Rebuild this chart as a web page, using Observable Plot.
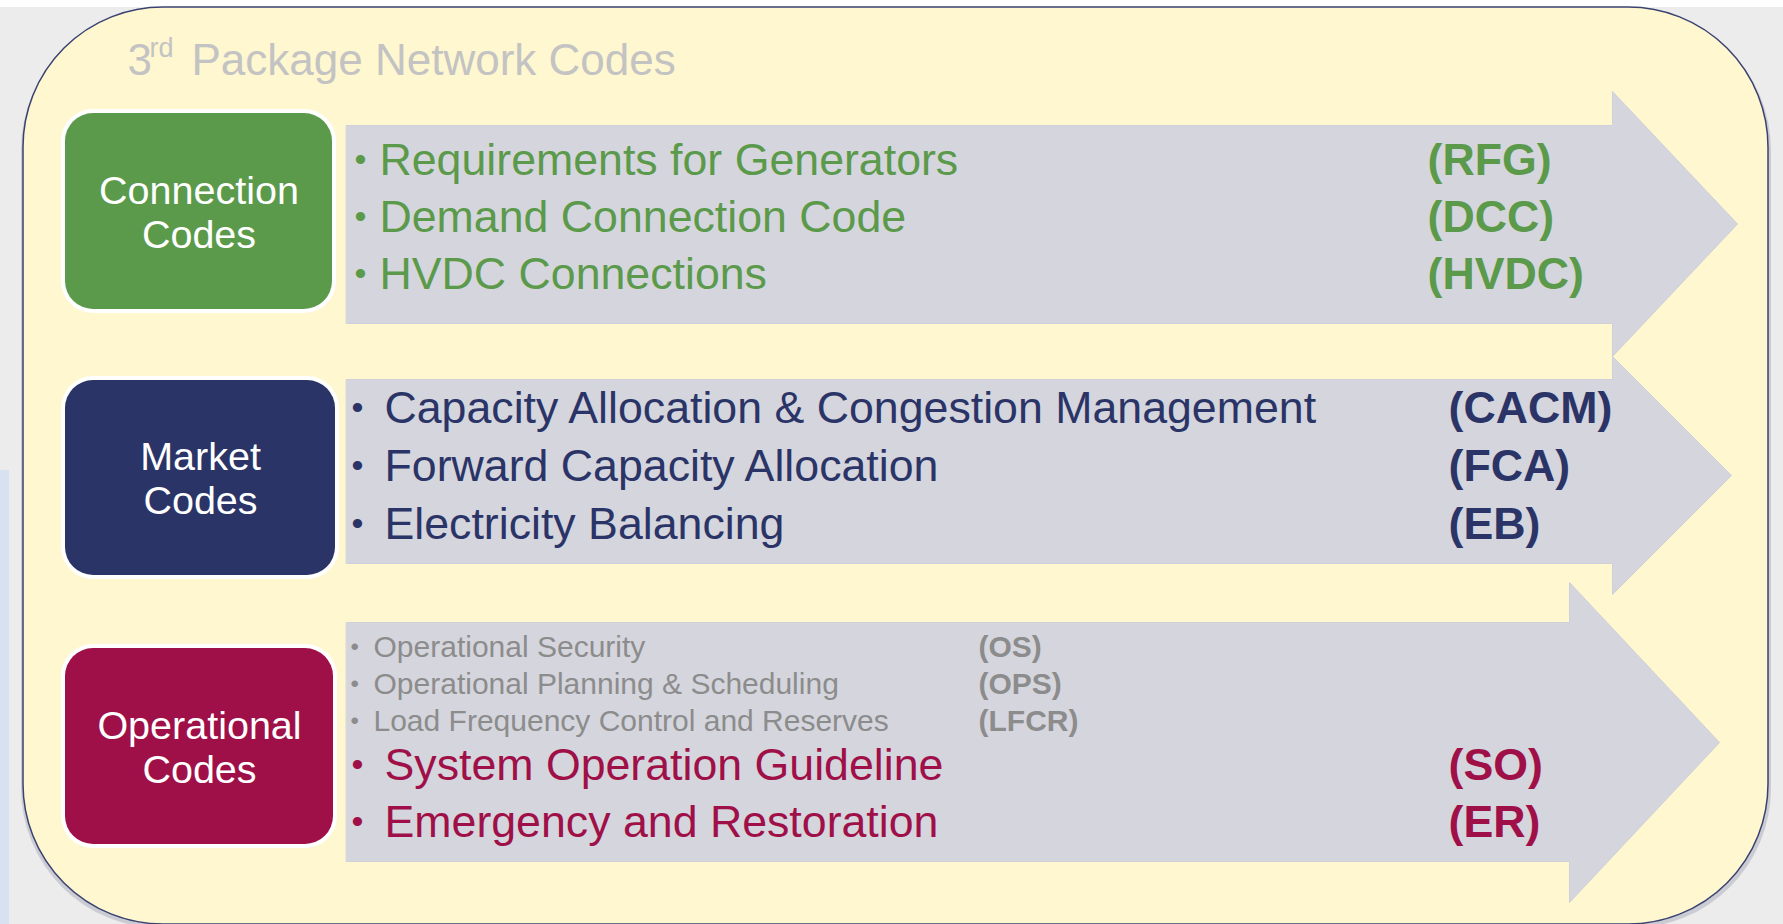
<!DOCTYPE html>
<html>
<head>
<meta charset="utf-8">
<script src="https://cdn.jsdelivr.net/npm/d3@7"></script>
<script src="https://cdn.jsdelivr.net/npm/@observablehq/plot@0.6"></script>
<style>
  html, body { margin: 0; padding: 0; background: #ececec; }
  #chart svg { display: block; }
</style>
</head>
<body>
<div id="chart"></div>
<script>
// ---- content ----
const titleMain = "3";
const titleSup = "rd";
const titleRest = "Package Network Codes";

const categories = ["Connection\nCodes", "Market\nCodes", "Operational\nCodes"];

const connectionItems = ["Requirements for Generators", "Demand Connection Code", "HVDC Connections"];
const connectionAbbr = ["(RFG)", "(DCC)", "(HVDC)"];

const marketItems = ["Capacity Allocation & Congestion Management", "Forward Capacity Allocation", "Electricity Balancing"];
const marketAbbr = ["(CACM)", "(FCA)", "(EB)"];

const operationalMinorItems = ["Operational Security", "Operational Planning & Scheduling", "Load Frequency Control and Reserves"];
const operationalMinorAbbr = ["(OS)", "(OPS)", "(LFCR)"];

const operationalItems = ["System Operation Guideline", "Emergency and Restoration"];
const operationalAbbr = ["(SO)", "(ER)"];

// ---- layout & style ----
const W = 1783, H = 924;
const colors = ["#5b9a4a", "#2b3467", "#a01048"];
const arrowFill = "#d5d5dd";
const panelFill = "#fff7cf";
const SANS = "'Liberation Sans', Arial, Helvetica, sans-serif";

const boxes = [
  {x1: 65, x2: 332, y1: 113, y2: 309},
  {x1: 65, x2: 335, y1: 380, y2: 575},
  {x1: 65, x2: 333, y1: 648, y2: 844}
].map((b, i) => ({...b, label: categories[i], color: colors[i], cx: (b.x1 + b.x2) / 2, cy: (b.y1 + b.y2) / 2,
                  ox1: b.x1 - 4, ox2: b.x2 + 4, oy1: b.y1 - 4, oy2: b.y2 + 4}));

const arrowGeom = [
  {x0: 346, hx: 1612, bt: 125, bb: 323, ht: 91, hb: 356, tip: 1737},
  {x0: 346, hx: 1612, bt: 379, bb: 563, ht: 356, hb: 594, tip: 1731},
  {x0: 346, hx: 1569, bt: 622, bb: 861, ht: 582, hb: 902, tip: 1719}
];
const arrowPts = arrowGeom.flatMap((a, id) => {
  const cy = (a.ht + a.hb) / 2;
  return [[a.x0, a.bt], [a.hx, a.bt], [a.hx, a.ht], [a.tip, cy], [a.hx, a.hb], [a.hx, a.bb], [a.x0, a.bb]]
    .map(([x, y]) => ({id, x, y}));
});

function rows(items, abbr, cfg) {
  return items.map((t, i) => ({
    text: t, abbr: abbr[i],
    y: cfg.y0 + i * cfg.dy,
    bx: cfg.bx, tx: cfg.tx, ax: cfg.ax
  }));
}
const g1 = rows(connectionItems, connectionAbbr, {y0: 160, dy: 57, bx: 354, tx: 379, ax: 1427});
const g2 = rows(marketItems, marketAbbr, {y0: 408, dy: 58, bx: 351, tx: 384, ax: 1448});
const g3m = rows(operationalMinorItems, operationalMinorAbbr, {y0: 647, dy: 37, bx: 350, tx: 373, ax: 978});
const g3 = rows(operationalItems, operationalAbbr, {y0: 765, dy: 57, bx: 351, tx: 384, ax: 1448});

function textMarks(data, color, size, abbrWeight, bulletSize) {
  return [
    Plot.text(data, {x: "bx", y: "y", text: () => "•", fill: color, fontSize: bulletSize, textAnchor: "start", lineAnchor: "middle"}),
    Plot.text(data, {x: "tx", y: "y", text: "text", fill: color, fontSize: size, textAnchor: "start", lineAnchor: "middle"}),
    Plot.text(data, {x: "ax", y: "y", text: "abbr", fill: color, fontSize: size, fontWeight: abbrWeight, textAnchor: "start", lineAnchor: "middle"})
  ];
}

const chart = Plot.plot({
  width: W, height: H,
  margin: 0,
  x: {domain: [0, W], range: [0, W], axis: null},
  y: {domain: [0, H], range: [0, H], axis: null},
  style: {background: "#ececec", fontFamily: SANS},
  marks: [
    Plot.rect([{}], {x1: () => 0, x2: () => W, y1: () => 0, y2: () => 7, fill: "#ffffff"}),
    Plot.rect([{}], {x1: () => 0, x2: () => 9, y1: () => 470, y2: () => H, fill: "#d6e2ef"}),
    // soft shadow
    Plot.rect([{}], {x1: () => 21, x2: () => 1771, y1: () => 10, y2: () => 928, rx: 140, fill: "#8e90a6", fillOpacity: 0.35}),
    Plot.rect([{}], {x1: () => 23, x2: () => 1768, y1: () => 7, y2: () => 924, rx: 140, fill: panelFill, stroke: "#3a4272", strokeWidth: 1.5}),
    Plot.line(arrowPts, {x: "x", y: "y", z: "id", fill: arrowFill, stroke: "#cfd0da", strokeWidth: 1, curve: "linear-closed"}),
    Plot.rect(boxes, {x1: "ox1", x2: "ox2", y1: "oy1", y2: "oy2", fill: "#ffffff", rx: 32}),
    Plot.rect(boxes, {x1: "x1", x2: "x2", y1: "y1", y2: "y2", fill: "color", rx: 28}),
    Plot.text(boxes, {x: "cx", y: "cy", text: "label", fill: "#ffffff", fontSize: 39.5, lineHeight: 1.12, textAnchor: "middle", lineAnchor: "middle"}),
    Plot.text([titleMain], {x: () => 127, y: () => 60, text: d => d, fill: "#c3c3c3", fontSize: 44, textAnchor: "start", lineAnchor: "middle"}),
    Plot.text([titleSup], {x: () => 149, y: () => 48, text: d => d, fill: "#c3c3c3", fontSize: 27, textAnchor: "start", lineAnchor: "middle"}),
    Plot.text([titleRest], {x: () => 191, y: () => 60, text: d => d, fill: "#c3c3c3", fontSize: 44, textAnchor: "start", lineAnchor: "middle"}),
    ...textMarks(g1, colors[0], 44.7, "bold", 34),
    ...textMarks(g2, colors[1], 44.7, "bold", 34),
    ...textMarks(g3m, "#8c8c8c", 30, "bold", 24),
    ...textMarks(g3, colors[2], 44.7, "bold", 34)
  ]
});
document.getElementById("chart").appendChild(chart);
</script>
</body>
</html>
